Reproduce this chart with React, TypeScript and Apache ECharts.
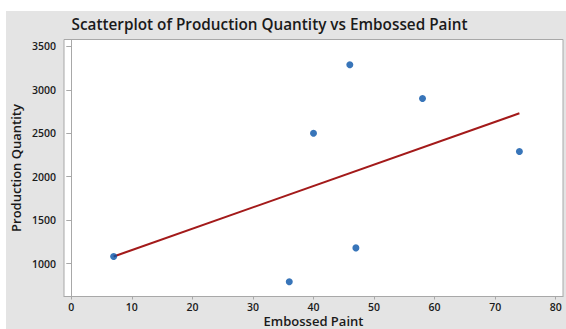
import React, { useEffect, useRef } from "react";
import * as echarts from "echarts";

const embossedPaint = [7, 36, 40, 46, 47, 58, 74];
const productionQty = [1080, 790, 2500, 3290, 1180, 2900, 2290];
const fitX = [7, 74];
const fitY = [1080, 2730];
const xTicks = [0, 10, 20, 30, 40, 50, 60, 70, 80];
const yTicks = [1000, 1500, 2000, 2500, 3000, 3500];

const FONT = "'Open Sans', 'Noto Sans', sans-serif";

export default function App() {
  const ref = useRef<HTMLDivElement>(null);
  useEffect(() => {
    if (!ref.current) return;
    const chart = echarts.init(ref.current, undefined, { renderer: "svg" });
    const labelStyle = {
      color: "#1a1a1a",
      fontSize: 10.5,
      lineHeight: 11,
      fontWeight: 600,
      fontFamily: FONT,
      formatter: (v: number) => String(v),
    };
    chart.setOption({
      animation: false,
      backgroundColor: "#e4e4e4",
      graphic: [
        { type: "rect", shape: { x: 0, y: 0, width: 566, height: 11 }, style: { fill: "#ffffff" }, silent: true },
        { type: "rect", shape: { x: 0, y: 0, width: 6, height: 329 }, style: { fill: "#ffffff" }, silent: true },
        {
          type: "text",
          x: 269.5,
          y: 24,
          style: {
            text: "Scatterplot of Production Quantity vs Embossed Paint",
            fill: "#1a1a1a",
            font: `600 15.3px ${FONT}`,
            textAlign: "center",
            textVerticalAlign: "middle",
          },
        },
      ],
      grid: {
        show: true,
        left: 64,
        right: 3,
        top: 39.5,
        bottom: 32.5,
        containLabel: false,
        outerBoundsMode: "none",
        backgroundColor: "#ffffff",
        borderColor: "#a8a8a8",
        borderWidth: 1,
      },
      xAxis: {
        type: "value",
        min: -1.2,
        max: 81.2,
        name: "Embossed Paint",
        nameLocation: "middle",
        nameGap: 17.5,
        nameMoveOverlap: false,
        nameTextStyle: { color: "#1a1a1a", fontSize: 13, lineHeight: 13, fontWeight: 600, fontFamily: FONT },
        axisLine: { show: true, lineStyle: { color: "#a8a8a8" } },
        axisTick: { show: true, customValues: xTicks, length: 3, lineStyle: { color: "#a8a8a8" } },
        axisLabel: { ...labelStyle, customValues: xTicks, margin: 5 },
        splitLine: { show: false },
      },
      yAxis: {
        type: "value",
        min: 620,
        max: 3580,
        name: "Production Quantity",
        nameLocation: "middle",
        nameRotate: 90,
        nameGap: 42,
        nameMoveOverlap: false,
        nameTextStyle: { color: "#1a1a1a", fontSize: 13, fontWeight: 600, fontFamily: FONT },
        axisLine: { show: true, lineStyle: { color: "#a8a8a8" } },
        axisTick: { show: true, customValues: yTicks, length: 5, lineStyle: { color: "#a8a8a8" } },
        axisLabel: { ...labelStyle, customValues: yTicks, margin: 8 },
        splitLine: { show: false },
      },
      series: [
        {
          type: "line",
          data: fitX.map((x, i) => [x, fitY[i]]),
          showSymbol: false,
          lineStyle: { color: "#a31a1a", width: 2 },
          z: 2,
        },
        {
          type: "scatter",
          data: embossedPaint.map((x, i) => [x, productionQty[i]]),
          symbolSize: 7,
          itemStyle: { color: "#0652a8" },
          z: 3,
        },
      ],
    });
    return () => chart.dispose();
  }, []);
  return <div ref={ref} style={{ position: "absolute", left: 0, top: 0, width: 566, height: 329 }} />;
}
